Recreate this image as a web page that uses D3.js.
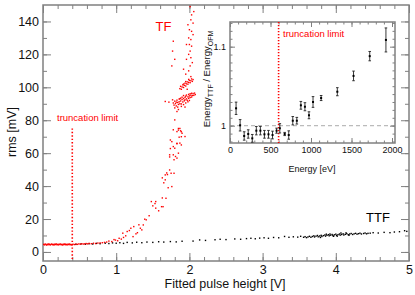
<!DOCTYPE html>
<html>
<head>
<meta charset="utf-8">
<script src="https://cdn.jsdelivr.net/npm/d3@7"></script>
<style>
body{margin:0;background:#fff;}
svg{display:block;font-family:"Liberation Sans",Arial,sans-serif;}
.tick text{fill:#111;}
</style>
</head>
<body>
<div id="chart"></div>
<script>
// main plot data: [pulse height V, rms mV]
var tfBand = [[0.01,4.6],[0.02,4.3],[0.03,4.8],[0.04,4.5],[0.05,4.2],[0.06,4.7],[0.07,4.4],[0.08,4.9],[0.09,4.5],[0.10,4.3],[0.11,4.6],[0.12,4.8],[0.13,4.4],[0.14,4.6],[0.15,4.2],[0.16,4.7],[0.17,4.5],[0.18,4.9],[0.19,4.4],[0.20,4.6],[0.21,4.3],[0.22,4.7],[0.23,4.5],[0.24,4.8],[0.25,4.4],[0.26,4.6],[0.27,4.2],[0.28,4.7],[0.29,4.5],[0.30,4.9],[0.31,4.4],[0.32,4.6],[0.33,4.3],[0.34,4.7],[0.35,4.5],[0.36,4.8],[0.37,4.4],[0.38,4.6],[0.39,4.3],[0.41,4.7],[0.43,4.5],[0.45,4.8],[0.47,4.6],[0.49,4.9],[0.51,4.7],[0.53,5.0],[0.55,4.8],[0.57,4.9],[0.59,5.1],[0.61,4.9],[0.63,5.2],[0.66,5.0],[0.69,5.3],[0.72,5.1],[0.75,5.4],[0.78,5.5],[0.81,5.6],[0.84,5.8],[0.87,6.0]];
var tfRise = [[0.90,6.6],[0.94,6.3],[0.97,7.5],[0.99,7.2],[1.02,6.8],[1.04,8.3],[1.07,7.8],[1.09,11.4],[1.10,8.8],[1.13,9.8],[1.15,12.4],[1.18,13.0],[1.20,14.4],[1.23,9.3],[1.24,15.4],[1.27,11.0],[1.29,11.7],[1.31,16.5],[1.33,14.4],[1.35,13.4],[1.37,16.4],[1.39,19.9],[1.41,19.5],[1.45,22],[1.48,30.6],[1.50,28],[1.53,29.4],[1.54,26.6],[1.54,30.6],[1.58,25],[1.62,27.5],[1.63,32.8],[1.64,27.5],[1.63,45],[1.65,42],[1.67,46.8],[1.67,43.8],[1.68,32.6],[1.69,48],[1.70,47],[1.71,39],[1.73,49.8],[1.73,57.7],[1.73,59],[1.74,62.8],[1.75,47.8],[1.76,39.7],[1.76,67],[1.78,59],[1.78,64],[1.79,47.8],[1.79,56],[1.80,63],[1.81,58],[1.83,57],[1.83,65.7],[1.85,60],[1.87,66.1],[1.89,65],[1.86,69.7],[1.94,70.1],[1.90,72.1],[1.88,73.6],[1.83,73.1],[1.78,74.2],[1.74,68],[1.83,66],[1.89,70],[1.85,75],[1.87,75],[1.80,80.2],[1.83,85.3],[1.85,74],[1.89,73]];
var tfLowCluster = [[1.78,90.5],[1.79,89.2],[1.80,91.6],[1.81,90.1],[1.82,88.7],[1.83,92.2],[1.84,90.8],[1.85,89.6],[1.86,92.9],[1.86,91.2],[1.87,90.0],[1.88,93.4],[1.88,91.7],[1.89,89.9],[1.90,92.6],[1.90,94.0],[1.91,91.1],[1.92,93.2],[1.92,95.0],[1.93,91.8],[1.94,93.9],[1.94,92.4],[1.95,94.6],[1.96,93.0],[1.96,95.3],[1.97,92.1],[1.98,94.2],[1.99,95.7],[1.99,93.3],[2.00,94.8],[2.01,96.1],[2.01,93.8],[2.02,95.2],[2.03,94.1],[2.03,96.4],[2.04,95.0],[2.05,96.2],[2.06,95.1],[2.07,96.5],[2.08,95.6],[1.84,88.0],[1.89,88.4],[1.95,90.5],[1.98,91.2],[2.00,92.0],[1.82,91.0],[1.87,93.0],[1.92,89.5],[1.80,87.5],[1.85,86.5],[1.94,88.0],[1.77,92.4],[1.72,91.0],[1.67,91.4]];
var tfHighCluster = [[1.87,99.2],[1.88,100.6],[1.89,98.8],[1.90,100.2],[1.91,101.5],[1.92,99.9],[1.93,101.2],[1.94,102.5],[1.95,100.8],[1.96,102.1],[1.97,103.3],[1.98,101.9],[1.99,103.0],[2.00,104.2],[2.01,102.8],[2.02,104.0],[2.03,105.1],[2.04,103.6],[2.05,104.7],[1.95,103.5],[1.99,104.8],[1.92,102.0],[2.02,106.5],[1.97,98.8]];
var tfTop = [[2.01,149],[2.03,144],[2.02,141],[2.05,139],[2.00,135],[2.03,134],[2.05,132],[1.99,130],[2.02,129],[1.96,126],[2.03,125],[1.78,128],[2.01,122],[1.99,120],[2.02,118],[1.96,117],[1.77,122],[1.80,117],[2.01,113],[1.99,110],[1.92,111],[1.76,113],[2.06,146],[1.98,138],[2.04,115],[1.95,108],[2.00,126]];
var ttfSparse = [[0.45,4.6],[0.52,4.9],[0.58,4.7],[0.63,5.0],[0.68,4.8],[0.73,5.2],[0.78,5.0],[0.85,5.3],[0.90,5.1],[0.95,5.5],[1.00,5.3],[1.05,5.6],[1.10,5.2],[1.15,5.8],[1.22,5.5],[1.28,5.9],[1.35,5.6],[1.42,6.0],[1.50,5.8],[1.58,6.2],[1.65,6.0],[1.74,6.3],[1.82,6.1],[1.90,6.5],[2.05,6.6],[2.14,7.3],[2.22,7.0],[2.35,7.4],[2.42,7.7],[2.50,7.5],[2.62,7.9],[2.70,7.7],[2.78,8.1],[2.84,8.3],[2.90,8.0],[2.96,8.4],[3.02,8.6],[3.08,8.3],[3.15,8.8],[3.22,8.6],[3.30,9.4],[3.36,8.9],[3.42,9.2],[3.48,9.0],[3.52,9.5]];
var ttfDense = [[3.56,8.9],[3.58,9.3],[3.60,8.7],[3.62,9.1],[3.64,9.5],[3.66,8.9],[3.68,9.4],[3.70,9.8],[3.71,9.1],[3.73,9.6],[3.75,10.0],[3.76,9.2],[3.78,9.7],[3.80,10.1],[3.81,9.4],[3.83,9.9],[3.85,10.3],[3.86,9.6],[3.88,10.1],[3.90,10.5],[3.91,9.8],[3.93,10.2],[3.95,10.6],[3.96,9.9],[3.98,10.4],[4.00,10.8],[4.01,10.0],[4.03,10.5],[4.05,10.9],[4.06,10.2],[4.08,10.6],[4.10,11.0],[4.11,10.3],[4.13,10.7],[4.15,11.1],[4.17,10.5],[4.19,10.9],[4.21,11.2],[4.23,10.6],[4.25,11.0],[4.27,11.3],[4.29,10.8],[4.31,11.1],[4.33,11.4],[4.35,10.9],[4.38,11.2],[4.40,11.5],[4.42,11.0],[4.44,11.3],[4.47,11.4],[3.87,10.8],[3.97,9.5],[4.07,11.5],[4.18,10.1],[3.79,8.8],[4.02,9.6],[3.92,10.9],[4.14,11.6]];
var ttfTail = [[4.51,11.7],[4.58,11.5],[4.66,11.9],[4.74,11.7],[4.80,12.1],[4.87,12.3],[4.94,12.9],[4.97,12.5]];

// inset data: energy [eV], ratio, error
var insetEnergy = [75,125,175,225,275,325,375,425,475,525,575,615,675,725,775,825,875,925,975,1025,1125,1325,1525,1725,1925];
var insetRatio  = [1.022,1.0005,0.987,0.9895,0.984,0.9937,0.9937,0.9891,0.9891,0.9882,0.9937,0.9967,0.9895,0.9882,1.0063,1.0063,1.0258,1.024,1.0132,1.030,1.035,1.043,1.063,1.088,1.1085];
var insetError  = [0.0078,0.0072,0.0053,0.0053,0.0049,0.0053,0.0053,0.0049,0.0049,0.0049,0.0032,0.0059,0.002,0.0053,0.0053,0.0042,0.0049,0.0051,0.0044,0.0068,0.0032,0.0051,0.0061,0.0059,0.0152];

var truncV = 0.4, truncTop = 75, truncE = 600;
var xMajor = [0,1,2,3,4,5];
var yMajor = [0,20,40,60,80,100,120,140];
var ixMajor = [0,500,1000,1500,2000];
var iyMajor = [1,1.1];

var frameColor = "#808080";

var svg = d3.select("#chart").append("svg")
	.attr("width",415)
	.attr("height",295);

var x = d3.scaleLinear().domain([0,5]).range([43,409]);
var y = d3.scaleLinear().domain([-5.5,150]).range([261,5]);

//draw inward ticks for a frame
function frameAxes(g, xs, ys, xMin, yMin, xMaj, yMaj, bigT, smallT, fontSize, xFmt, yFmt){
	var x0 = xs.range()[0], x1 = xs.range()[1];
	var y0 = ys.range()[1], y1 = ys.range()[0];
	var axes = [
		[d3.axisBottom(xs), "translate(0,"+y1+")", xMin, xMaj, xFmt],
		[d3.axisTop(xs), "translate(0,"+y0+")", xMin, xMaj, null],
		[d3.axisLeft(ys), "translate("+x0+",0)", yMin, yMaj, yFmt],
		[d3.axisRight(ys), "translate("+x1+",0)", yMin, yMaj, null]
	];
	axes.forEach(function(a){
		g.append("g")
			.attr("transform",a[1])
			.call(a[0].tickValues(a[2]).tickSize(-smallT).tickFormat(""))
			.call(function(s){ s.select(".domain").remove(); s.selectAll("line").attr("stroke",frameColor); });
		var maj = g.append("g")
			.attr("transform",a[1])
			.call(a[0].tickValues(a[3]).tickSize(-bigT).tickPadding(4).tickFormat(a[4] ? a[4] : ""))
			.call(function(s){ s.select(".domain").remove(); s.selectAll("line").attr("stroke",frameColor); });
		maj.selectAll("text").style("font-size",fontSize+"px").attr("font-family",null);
	});
	g.append("rect")
		.attr("x",x0).attr("y",y0)
		.attr("width",x1-x0).attr("height",y1-y0)
		.attr("fill","none")
		.attr("stroke",frameColor)
		.attr("stroke-width",1.5);
}

var xMinor = d3.range(0,5.01,0.2);
var yMinor = d3.range(0,150,10);
var mainAxes = svg.append("g");
frameAxes(mainAxes, x, y, xMinor, yMinor, xMajor, yMajor, 8, 4, 12.5, d3.format("d"), d3.format("d"));
mainAxes.selectAll("text").style("font-size","12.5px");

// points
function drawPts(data, color){
	svg.append("g").selectAll("rect")
		.data(data)
		.enter()
		.append("rect")
		.attr("x",function(d){ return x(d[0]) - 0.7; })
		.attr("y",function(d){ return y(d[1]) - 0.7; })
		.attr("width",1.4)
		.attr("height",1.4)
		.attr("fill",color);
}
drawPts(ttfSparse,"#000");
drawPts(ttfDense,"#000");
drawPts(ttfTail,"#000");
drawPts(tfBand,"#ff0000");
drawPts(tfRise,"#ff0000");
drawPts(tfLowCluster,"#ff0000");
drawPts(tfHighCluster,"#ff0000");
drawPts(tfTop,"#ff0000");

// truncation line main
svg.append("line")
	.attr("x1",x(truncV)).attr("x2",x(truncV))
	.attr("y1",y(truncTop)).attr("y2",y(-5.5))
	.attr("stroke","#ff0000")
	.attr("stroke-width",1.6)
	.attr("stroke-dasharray","1.4,2");

svg.append("text")
	.attr("x",57).attr("y",121)
	.attr("fill","#ff0000")
	.style("font-size","9.5px")
	.text("truncation limit");

svg.append("text")
	.attr("x",163.5).attr("y",31)
	.attr("text-anchor","middle")
	.attr("fill","#ff0000")
	.style("font-size","13px")
	.text("TF");

svg.append("text")
	.attr("x",378).attr("y",222)
	.attr("text-anchor","middle")
	.attr("fill","#000")
	.style("font-size","13px")
	.text("TTF");

svg.append("text")
	.attr("x",225).attr("y",288)
	.attr("text-anchor","middle")
	.style("font-size","12.5px")
	.attr("fill","#111")
	.text("Fitted pulse height [V]");

svg.append("text")
	.attr("transform","translate(16,132) rotate(-90)")
	.attr("text-anchor","middle")
	.style("font-size","12.5px")
	.attr("fill","#111")
	.text("rms [mV]");

// inset
var ix = d3.scaleLinear().domain([0,2037]).range([230,395]);
var iy = d3.scaleLinear().domain([0.9781,1.1312]).range([143,22]);

svg.append("rect")
	.attr("x",230).attr("y",22)
	.attr("width",165).attr("height",121)
	.attr("fill","#fff");

svg.append("line")
	.attr("x1",ix(0)).attr("x2",ix(2037))
	.attr("y1",iy(1)).attr("y2",iy(1))
	.attr("stroke","#bbbbbb")
	.attr("stroke-width",1.3)
	.attr("stroke-dasharray","4,3");

var insetAxes = svg.append("g");
frameAxes(insetAxes, ix, iy, d3.range(0,2001,100), d3.range(0.98,1.131,0.01), ixMajor, iyMajor, 5, 2.5, 9, d3.format("d"), function(d){ return d === 1 ? "1" : d3.format(".1f")(d); });

svg.append("line")
	.attr("x1",ix(truncE)).attr("x2",ix(truncE))
	.attr("y1",iy(1.1312)).attr("y2",iy(0.9781))
	.attr("stroke","#ff0000")
	.attr("stroke-width",1.6)
	.attr("stroke-dasharray","1.3,1.7");

svg.append("text")
	.attr("x",283).attr("y",37)
	.attr("fill","#ff0000")
	.style("font-size","9.5px")
	.text("truncation limit");

var bars = svg.append("g").selectAll("g")
	.data(insetEnergy)
	.enter()
	.append("g");
bars.append("line")
	.attr("x1",function(d){ return ix(d); })
	.attr("x2",function(d){ return ix(d); })
	.attr("y1",function(d,i){ return iy(insetRatio[i] - insetError[i]); })
	.attr("y2",function(d,i){ return iy(insetRatio[i] + insetError[i]); })
	.attr("stroke","#222").attr("stroke-width",0.9);
[-1,1].forEach(function(s){
	bars.append("line")
		.attr("x1",function(d){ return ix(d) - 1.3; })
		.attr("x2",function(d){ return ix(d) + 1.3; })
		.attr("y1",function(d,i){ return iy(insetRatio[i] + s*insetError[i]); })
		.attr("y2",function(d,i){ return iy(insetRatio[i] + s*insetError[i]); })
		.attr("stroke","#222").attr("stroke-width",0.9);
});
bars.append("rect")
	.attr("x",function(d){ return ix(d) - 1; })
	.attr("y",function(d,i){ return iy(insetRatio[i]) - 1; })
	.attr("width",2).attr("height",2)
	.attr("fill","#000");

svg.append("text")
	.attr("x",312).attr("y",172)
	.attr("text-anchor","middle")
	.style("font-size","9px")
	.attr("fill","#111")
	.text("Energy [eV]");

var yl = svg.append("text")
	.attr("transform","translate(210,79) rotate(-90)")
	.attr("text-anchor","middle")
	.style("font-size","9.5px")
	.attr("fill","#111");
yl.append("tspan").text("Energy");
yl.append("tspan").attr("dy",3).style("font-size","7px").text("TTF");
yl.append("tspan").attr("dy",-3).text(" / Energy");
yl.append("tspan").attr("dy",3).style("font-size","7px").text("OFM");
</script>
</body>
</html>
